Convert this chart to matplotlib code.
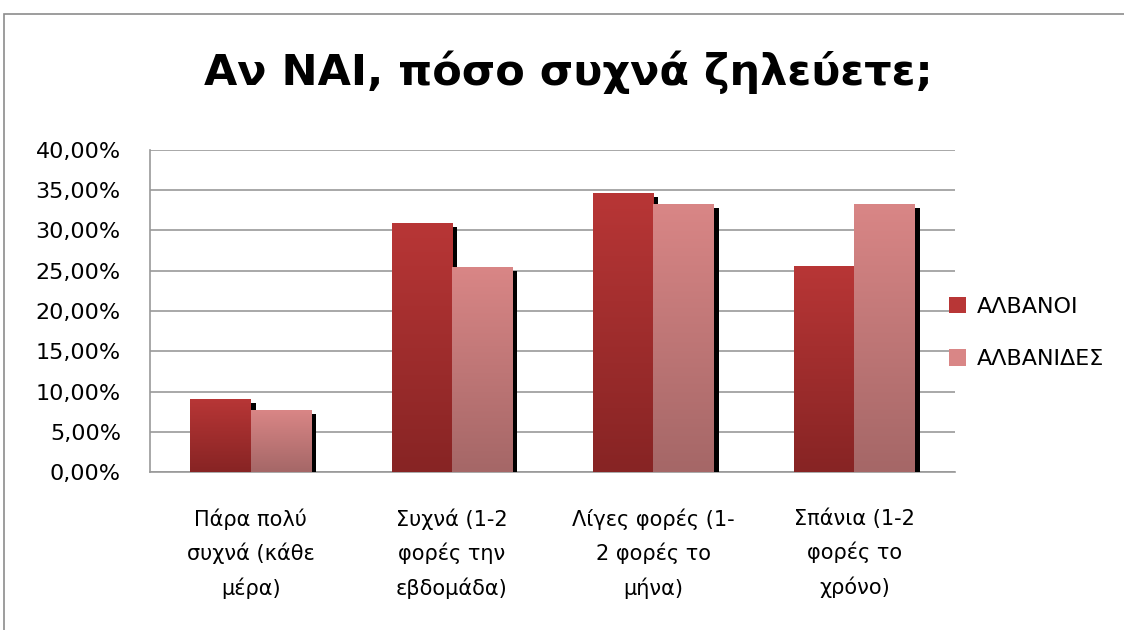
import matplotlib
matplotlib.use("Agg")
import matplotlib.pyplot as plt
import numpy as np
from matplotlib.patches import Rectangle
import matplotlib.patheffects as pe
from matplotlib.colors import LinearSegmentedColormap

plt.rcParams['font.family'] = ['DejaVu Sans']

categories = ["Πάρα πολύ\nσυχνά (κάθε\nμέρα)",
              "Συχνά (1-2\nφορές την\nεβδομάδα)",
              "Λίγες φορές (1-\n2 φορές το\nμήνα)",
              "Σπάνια (1-2\nφορές το\nχρόνο)"]
series_names = ["ΑΛΒΑΝΟΙ", "ΑΛΒΑΝΙΔΕΣ"]
albanoi = [9.1, 30.9, 34.7, 25.6]
albanides = [7.7, 25.5, 33.3, 33.3]
yticks = [0, 5, 10, 15, 20, 25, 30, 35, 40]
ytick_labels = ["0,00%", "5,00%", "10,00%", "15,00%", "20,00%", "25,00%", "30,00%", "35,00%", "40,00%"]
title = "Αν ΝΑΙ, πόσο συχνά ζηλεύετε;"

grad = {
    0: ("#B83636", "#872424"),
    1: ("#D98686", "#A56767"),
}

fig = plt.figure(figsize=(11.24, 6.30), dpi=100)
# outer chart border
fig.patches.append(Rectangle((4/1124, -0.05), 1.2, 1 - 14/630 + 0.05, transform=fig.transFigure,
                             fill=False, edgecolor="#8C8C8C", linewidth=1.2))
ax = fig.add_axes([150/1124, 1 - 472/630, 805/1124, 322/630])

x = np.arange(len(categories))
w = 0.3
shadow = [pe.SimplePatchShadow(offset=(3.6, -2.9), shadow_rgbFace="black", alpha=1.0), pe.Normal()]
for si, vals in enumerate([albanoi, albanides]):
    xs = x - w/2 + si*w
    bars = ax.bar(xs, vals, width=w, color=grad[si][0], zorder=2 + si*2, path_effects=shadow, linewidth=0)
    cmap = LinearSegmentedColormap.from_list("g%d" % si, [grad[si][1], grad[si][0]])
    for b in bars:
        x0, y0 = b.get_x(), b.get_y()
        bw, bh = b.get_width(), b.get_height()
        img = ax.imshow(np.linspace(0, 1, 100).reshape(-1, 1), cmap=cmap, aspect="auto",
                        extent=[x0, x0 + bw, 0, bh], origin="lower", zorder=3 + si*2)
        img.set_clip_path(b)

ax.set_xlim(-0.5, len(categories) - 0.5)
ax.set_ylim(0, 40)
ax.set_yticks(yticks)
ax.set_yticklabels(ytick_labels, fontsize=16)
ax.set_xticks(x)
ax.set_xticklabels(categories, fontsize=15, linespacing=1.75)
ax.tick_params(axis="x", length=0, pad=26)
ax.tick_params(axis="y", length=0, pad=21)
ax.yaxis.grid(True, color="#999999", linewidth=1.2, zorder=0)
ax.set_axisbelow(True)
for s in ["top", "right"]:
    ax.spines[s].set_visible(False)
ax.spines["left"].set_color("#999999")
ax.spines["bottom"].set_color("#999999")
ax.spines["left"].set_linewidth(1.2)
ax.spines["bottom"].set_linewidth(1.2)

fig.text(568/1124, 1 - 72/630, title, fontsize=31, fontweight="bold", ha="center", va="center")

# legend
handles = [Rectangle((0, 0), 1, 1, facecolor=grad[i][0]) for i in range(2)]
leg = fig.legend(handles, series_names, loc="center left", bbox_to_anchor=(940/1124, 1 - 333/630),
                 frameon=False, fontsize=16, handlelength=0.75, handleheight=0.75,
                 labelspacing=1.45, handletextpad=0.5, borderaxespad=0)

fig.savefig("out.png", dpi=100)
